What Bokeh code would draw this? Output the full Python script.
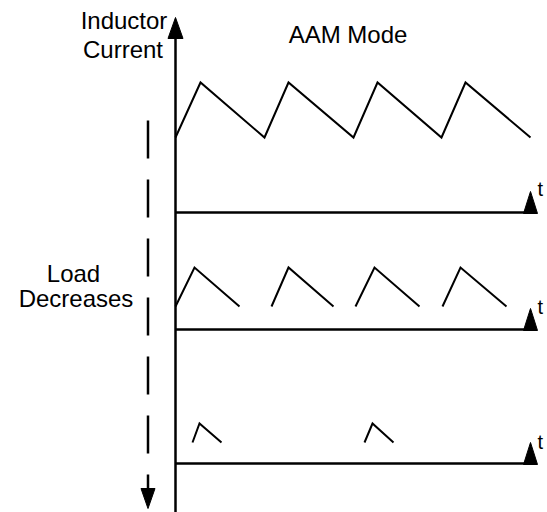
from bokeh.plotting import figure
from bokeh.models import Range1d
from bokeh.core.properties import value
from bokeh.embed import file_html
from bokeh.resources import INLINE

# ---- diagram data (pixel coordinates of the reference) ----
axis_x = 175
axis_y0, axis_y1 = 38, 512
up_arrow_x = [175, 167.5, 182.5]
up_arrow_y = [17, 38, 38]

baselines_y = [212, 329, 463]
baseline_x0, baseline_x1 = 175, 530
t_tri_dx = [-7, 0, 7]
t_tri_dy = [1, -21, 1]

top_wave_x = [175, 200, 264, 288, 353, 377, 441, 465, 530]
top_wave_y = [137, 82, 137, 82, 137, 82, 137, 82, 137]

mid_wave_xs = [[175, 194, 239], [271, 288, 333], [355, 374, 419], [442, 460, 506]]
mid_wave_ys = [[306, 267, 306], [306, 267, 306], [306, 267, 306], [306, 267, 306]]

low_wave_xs = [[192, 199, 221], [364, 372, 393]]
low_wave_ys = [[442, 423, 442], [442, 423, 442]]

dash_x = 147.5
dash_y0, dash_y1 = 120, 488
down_arrow_x = [140.5, 147.5, 154.5]
down_arrow_y = [488, 508, 488]

labels = ["Inductor", "Current", "AAM Mode", "Load", "Decreases"]
labels_x = [123.5, 122.5, 347.5, 73, 75.5]
labels_y = [20, 49, 34, 273, 298]

t_labels_x = [537, 537, 537]
t_labels_y = [188, 306, 441]

FONT = "Liberation Sans"

p = figure(width=547, height=512, x_range=Range1d(0, 547), y_range=Range1d(512, 0),
           output_backend="svg", toolbar_location=None, min_border=0,
           x_axis_location=None, y_axis_location=None)
p.grid.visible = False
p.outline_line_color = None
p.background_fill_color = "white"
p.border_fill_color = "white"

# main vertical axis with arrow
p.line([axis_x, axis_x], [axis_y0, axis_y1], line_color="black", line_width=2.5)
p.patch(up_arrow_x, up_arrow_y, fill_color="black", line_color="black", line_width=1)

# time baselines with triangles and "t"
for b in baselines_y:
    p.line([baseline_x0, baseline_x1], [b, b], line_color="black", line_width=2.5)
    p.patch([baseline_x1 + d for d in t_tri_dx], [b + d for d in t_tri_dy],
            fill_color="black", line_color="black", line_width=1)

p.text(t_labels_x, t_labels_y, text=["t"] * 3, text_font=value(FONT),
       text_font_size="20px", text_align="left", text_baseline="alphabetic",
       text_color="black")

# waveforms
p.line(top_wave_x, top_wave_y, line_color="black", line_width=2, line_join="miter")
p.multi_line(mid_wave_xs, mid_wave_ys, line_color="black", line_width=2, line_join="miter")
p.multi_line(low_wave_xs, low_wave_ys, line_color="black", line_width=2, line_join="miter")

# dashed "load decreases" arrow
p.line([dash_x, dash_x], [dash_y0, dash_y1], line_color="black", line_width=2.5,
       line_dash="38 21")
p.patch(down_arrow_x, down_arrow_y, fill_color="black", line_color="black", line_width=1)

# labels
p.text(labels_x, labels_y, text=labels, text_font=value(FONT), text_font_size="24px",
       text_align="center", text_baseline="alphabetic", text_color="black")

open("out.html", "w").write(file_html(p, INLINE))
